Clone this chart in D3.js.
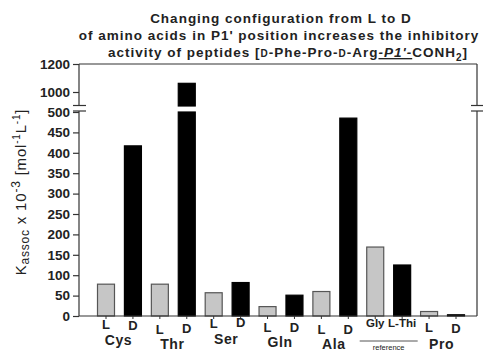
<!DOCTYPE html>
<html>
<head>
<meta charset="utf-8">
<script src="https://cdn.jsdelivr.net/npm/d3@7"></script>
<style>
  body { margin: 0; background: #fff; }
  svg { display: block; font-family: "Liberation Sans", Arial, sans-serif; }
</style>
</head>
<body>
<div id="chart"></div>
<script>
// bars, left to right
const barIds = ["CysL", "CysD", "ThrL", "ThrD", "SerL", "SerD", "GlnL", "GlnD", "AlaL", "AlaD", "Gly", "LThi", "ProL", "ProD"];
const barLabels = ["L", "D", "L", "D", "L", "D", "L", "D", "L", "D", "Gly", "L-Thi", "L", "D"];
const barConfig = ["L", "D", "L", "D", "L", "D", "L", "D", "L", "D", "L", "D", "L", "D"];
const barGroup = ["Cys", "Cys", "Thr", "Thr", "Ser", "Ser", "Gln", "Gln", "Ala", "Ala", "reference", "reference", "Pro", "Pro"];
const kassoc = [78, 417, 78, 1062, 57, 82, 23, 51, 60, 485, 169, 125, 11, 3];
const groups = ["Cys", "Thr", "Ser", "Gln", "Ala", "reference", "Pro"];
const lowerTicks = [0, 50, 100, 150, 200, 250, 300, 350, 400, 450, 500];
const upperTicks = [1000, 1200];

const W = 483, H = 352;
const left = 79, right = 477, bottom = 316;

const svg = d3.select("#chart").append("svg")
  .attr("width", W).attr("height", H);

const x = d3.scalePoint().domain(barIds).range([106, 456]);
const yLow = d3.scaleLinear().domain([0, 500]).range([bottom, 112]);
const yHigh = d3.scaleLinear().domain([900, 1200]).range([106, 64]);
const bw = 17;

// title
const title = svg.append("g").attr("font-weight", "bold").attr("font-size", 13.5)
  .attr("text-anchor", "middle").attr("fill", "#222").attr("letter-spacing", 1);
title.append("text").attr("x", 281).attr("y", 23).text("Changing configuration from L to D");
title.append("text").attr("x", 279).attr("y", 40).text("of amino acids in P1' position increases the inhibitory");
const t3 = title.append("text").attr("x", 288).attr("y", 57);
t3.append("tspan").text("activity of peptides [");
t3.append("tspan").attr("font-size", 10).text("D");
t3.append("tspan").text("-Phe-Pro-");
t3.append("tspan").attr("font-size", 10).text("D");
t3.append("tspan").text("-Arg");
t3.append("tspan").attr("font-style", "italic").attr("text-decoration", "underline").text("-P1'-");
t3.append("tspan").text("CONH");
t3.append("tspan").attr("font-size", 10).attr("dy", 4).text("2");
t3.append("tspan").attr("dy", -4).text("]");

// bars
const barG = svg.append("g");
kassoc.forEach((v, i) => {
  const fill = barConfig[i] === "L" ? "#c6c6c6" : "#000";
  const stroke = barConfig[i] === "L" ? "#555" : "#000";
  const top = yLow(Math.min(v, 500));
  barG.append("rect")
    .attr("x", x(barIds[i]) - bw / 2).attr("y", top)
    .attr("width", bw).attr("height", Math.max(bottom - top, 0.8))
    .attr("fill", fill).attr("stroke", stroke).attr("stroke-width", 1.2);
  if (v > 900) {
    barG.append("rect")
      .attr("x", x(barIds[i]) - bw / 2).attr("y", yHigh(v))
      .attr("width", bw).attr("height", yHigh(900) - yHigh(v))
      .attr("fill", fill).attr("stroke", stroke).attr("stroke-width", 1.2);
  }
});

// frame
const frame = svg.append("g").attr("stroke", "#333").attr("stroke-width", 1.2).attr("fill", "none");
frame.append("line").attr("x1", left).attr("x2", right).attr("y1", 64).attr("y2", 64);
frame.append("line").attr("x1", left).attr("x2", right).attr("y1", bottom).attr("y2", bottom);
[[64, 105.5], [111, bottom]].forEach(([a, b]) => {
  frame.append("line").attr("x1", left).attr("x2", left).attr("y1", a).attr("y2", b);
  frame.append("line").attr("x1", right).attr("x2", right).attr("y1", a).attr("y2", b);
});
// break marks
[105.5, 111].forEach(yy => {
  frame.append("line").attr("x1", 73).attr("x2", 86).attr("y1", yy).attr("y2", yy);
  frame.append("line").attr("x1", 471).attr("x2", 483).attr("y1", yy).attr("y2", yy);
});

// y axes
function styleAxis(g) {
  g.select(".domain").remove();
  g.selectAll(".tick line").attr("stroke", "#333").attr("stroke-width", 1.2);
  g.selectAll(".tick text").attr("font-size", 13.5).attr("font-weight", "bold")
    .attr("fill", "#222").attr("font-family", "Liberation Sans, Arial, sans-serif");
}
svg.append("g").attr("transform", `translate(${left},0)`)
  .call(d3.axisLeft(yLow).tickValues(lowerTicks).tickFormat(d3.format("d")).tickSize(6).tickPadding(3))
  .call(styleAxis);
svg.append("g").attr("transform", `translate(${left},0)`)
  .call(d3.axisLeft(yHigh).tickValues(upperTicks).tickFormat(d3.format("d")).tickSize(6).tickPadding(3))
  .call(styleAxis);

// x ticks
svg.append("g").selectAll("line").data(barIds).join("line")
  .attr("x1", d => x(d)).attr("x2", d => x(d))
  .attr("y1", bottom).attr("y2", bottom + 3)
  .attr("stroke", "#333");

// bar labels (pasted labels sit slightly uneven in the original)
const labelBase = [329, 330, 334, 333, 328, 327, 332, 332, 334, 334, 327, 327, 332, 333];
svg.append("g").attr("font-weight", "bold").attr("text-anchor", "middle").attr("fill", "#222")
  .selectAll("text").data(barIds).join("text")
  .attr("x", d => x(d)).attr("y", (d, i) => labelBase[i])
  .attr("font-size", (d, i) => barLabels[i].length > 1 ? 11.5 : 13)
  .text((d, i) => barLabels[i]);

const groupBase = { Cys: 345, Thr: 349, Ser: 344, Gln: 347, Ala: 349, reference: 350, Pro: 349 };
const gNames = svg.append("g").attr("font-weight", "bold").attr("text-anchor", "middle").attr("fill", "#222");
groups.forEach(g => {
  const xs = barIds.filter((d, i) => barGroup[i] === g).map(d => x(d));
  const cx = d3.mean(xs);
  if (g === "reference") {
    gNames.append("line").attr("x1", cx - 29).attr("x2", cx + 29).attr("y1", 341).attr("y2", 341)
      .attr("stroke", "#555").attr("stroke-width", 1);
    gNames.append("text").attr("x", cx).attr("y", groupBase[g])
      .attr("font-size", 7.5).attr("font-weight", "normal").text(g);
  } else {
    gNames.append("text").attr("x", cx - 1).attr("y", groupBase[g])
      .attr("font-size", 14).attr("letter-spacing", 0.6).text(g);
  }
});

// y label
const yl = svg.append("text").attr("transform", "translate(26,192) rotate(-90)")
  .attr("text-anchor", "middle").attr("font-size", 15).attr("letter-spacing", 0.8).attr("fill", "#222");
yl.append("tspan").text("K");
yl.append("tspan").attr("font-size", 12).attr("dy", 3).text("assoc");
yl.append("tspan").attr("dy", -3).text(" x 10");
yl.append("tspan").attr("font-size", 12).attr("dy", -6).text("-3");
yl.append("tspan").attr("dy", 6).text(" [mol");
yl.append("tspan").attr("font-size", 10).attr("dy", -6).text("-1");
yl.append("tspan").attr("dy", 6).text("L");
yl.append("tspan").attr("font-size", 10).attr("dy", -6).text("-1");
yl.append("tspan").attr("dy", 6).text("]");
</script>
</body>
</html>
